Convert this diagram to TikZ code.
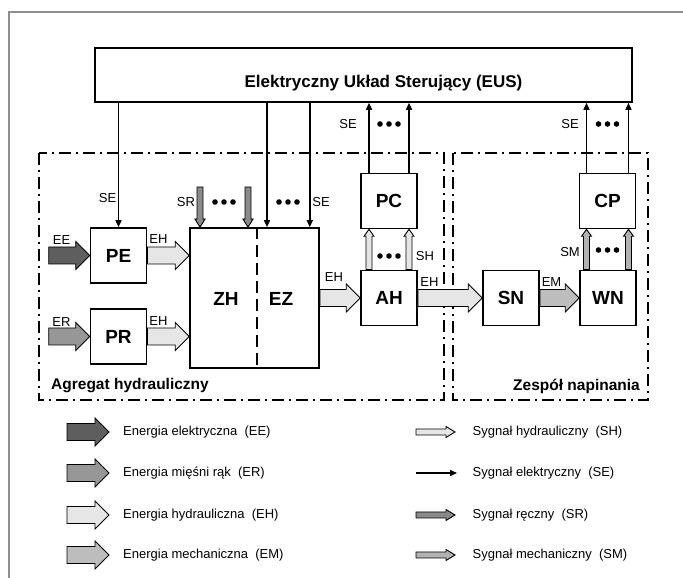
\documentclass[tikz,border=0pt]{standalone}
\usepackage{fontspec}
\setmainfont{Liberation Sans}
\usepackage{tikz}
\usetikzlibrary{calc,arrows.meta,positioning}
\definecolor{eecol}{HTML}{5E5E5E}
\definecolor{ercol}{HTML}{979797}
\definecolor{ehcol}{HTML}{E6E6E6}
\definecolor{emcol}{HTML}{BDBDBD}
\definecolor{srcol}{HTML}{8A8A8A}
\definecolor{smcol}{HTML}{B2B2B2}
\definecolor{framec}{HTML}{8E8E8E}
\tikzset{
  blk/.style={draw,line width=1.6pt,minimum width=56pt,minimum height=55pt,inner sep=0pt,font=\fontsize{19}{21}\bfseries\selectfont},
  lbl/.style={font=\fontsize{13}{15}\selectfont,inner sep=0pt},
  leg/.style={font=\fontsize{13}{15}\selectfont,anchor=west,inner sep=0pt},
  reg/.style={font=\fontsize{15.5}{18}\bfseries\selectfont,inner sep=0pt},
  zone/.style={line width=2.4pt,dash pattern=on 12pt off 5pt on 2pt off 5pt},
  divline/.style={line width=2.4pt,dash pattern=on 12pt off 6pt},
  se/.style={-{Triangle[length=7pt,width=6pt]},line width=1.5pt},
  fat/.style={line width=0.9pt,line join=miter}
}
% wide arrow: fill, from, to, half body, half head, head length
\newcommand{\flowarr}[6]{%
  \coordinate (fh) at ($(#3)!#6!(#2)$);
  \draw[fat,fill=#1] ($(#2)!#4!90:(#3)$) -- ($(fh)!#4!90:(#3)$) -- ($(fh)!#5!90:(#3)$) -- (#3)
    -- ($(fh)!#5!-90:(#3)$) -- ($(fh)!#4!-90:(#3)$) -- ($(#2)!#4!-90:(#3)$) -- cycle;}
\newcommand{\tridots}[1]{\foreach \k in {-9,0,9} \fill ($(#1)+(\k,0)$) circle (2.8);}

\begin{document}
\begin{tikzpicture}[x=1pt,y=1pt]
\useasboundingbox (0,0) rectangle (683,578);
\draw[framec,line width=1.2pt] (9,0) -- (9,566) -- (683,566);

% blocks
\node[blk,minimum width=537pt,minimum height=54pt] (EUS) at (363.5,503) {};
\node[font=\fontsize{17}{20}\bfseries\selectfont] (EUSt) at ($(EUS.center)+(20,-8)$) {Elektryczny Układ Sterujący (EUS)};
\node[blk] (PE) at (118.5,322.5) {PE};
\node[blk] (PR) at (118.5,241.5) {PR};
\node[blk,minimum width=129pt,minimum height=140pt] (ZE) at (254.5,280) {};
\node[font=\fontsize{19}{21}\bfseries\selectfont] (ZH) at (226,279) {ZH};
\node[font=\fontsize{19}{21}\bfseries\selectfont] (EZ) at (281,279) {EZ};
\coordinate (div) at (257,280);
\draw[divline] (ZE.north -| div) -- (ZE.south -| div);
\node[blk] (AH) at (389,280) {AH};
\node[blk] (PC) at (389,377) {PC};
\node[blk] (SN) at (511,280) {SN};
\node[blk] (WN) at (608,280) {WN};
\node[blk] (CP) at (607.5,377) {CP};

% zones
\draw[zone] (39,425) rectangle (444,178);
\draw[zone] (453,425) rectangle (648,178);
\node[reg,anchor=west] at (51,192) {Agregat hydrauliczny};
\node[reg,anchor=east] at (640,192) {Zespół napinania};

% energy flows
\coordinate[left=41pt of PE.west] (eein);
\coordinate[left=41pt of PR.west] (erin);
\coordinate (zhin1) at (PE.east -| ZE.west);
\coordinate (zhin2) at (PR.east -| ZE.west);
\coordinate (zhout) at (AH.west -| ZE.east);
\flowarr{eecol}{eein}{PE.west}{8.5pt}{14pt}{14pt}
\flowarr{ercol}{erin}{PR.west}{8.5pt}{14pt}{14pt}
\flowarr{ehcol}{PE.east}{zhin1}{8.5pt}{14pt}{14pt}
\flowarr{ehcol}{PR.east}{zhin2}{8.5pt}{14pt}{14pt}
\flowarr{ehcol}{zhout}{AH.west}{8.5pt}{14pt}{14pt}
\flowarr{ehcol}{AH.east}{SN.west}{8.5pt}{14pt}{14pt}
\flowarr{emcol}{SN.east}{WN.west}{8.5pt}{14pt}{14pt}
\node[lbl] at (61.5,338) {EE};
\node[lbl] at (61.5,256) {ER};
\node[lbl] at (158.5,339) {EH};
\node[lbl] at (158.5,257) {EH};
\node[lbl] at (334,301) {EH};
\node[lbl] at (429.5,296) {EH};
\node[lbl] at (551.5,296) {EM};

% electric signals
\draw[se] (EUS.south -| PE.north) -- (PE.north);
\node[lbl] at (107.5,380) {SE};
\coordinate (se1) at ($(ZE.north)+(12.5,0)$);
\coordinate (se2) at ($(ZE.north east)+(-10,0)$);
\draw[se] (EUS.south -| se1) -- (se1);
\draw[se] (EUS.south -| se2) -- (se2);
\tridots{288,376}
\node[lbl] at (321,376) {SE};
\coordinate (pc1) at ($(PC.north)+(-20,0)$);
\coordinate (pc2) at ($(PC.north)+(20,0)$);
\draw[se] (pc1) -- (pc1 |- EUS.south);
\draw[se] (pc2) -- (pc2 |- EUS.south);
\tridots{389,454}
\node[lbl] at (348,454) {SE};
\coordinate (cp1) at ($(CP.north)+(-21,0)$);
\coordinate (cp2) at ($(CP.north)+(21,0)$);
\draw[se] (cp1) -- (cp1 |- EUS.south);
\draw[se] (cp2) -- (cp2 |- EUS.south);
\tridots{607.5,454}
\node[lbl] at (570,454) {SE};

% manual signals
\coordinate (sr1) at (200,391);
\coordinate (sr2) at (248,391);
\coordinate (sr1e) at (sr1 |- ZE.north);
\coordinate (sr2e) at (sr2 |- ZE.north);
\flowarr{srcol}{sr1}{sr1e}{3pt}{5pt}{8pt}
\flowarr{srcol}{sr2}{sr2e}{3pt}{5pt}{8pt}
\tridots{224,376}
\node[lbl] at (186,376) {SR};

% hydraulic and mechanical signals
\coordinate (ah1) at ($(AH.north)+(-20,0)$);
\coordinate (ah2) at ($(AH.north)+(20,0)$);
\coordinate (ah1e) at (ah1 |- PC.south);
\coordinate (ah2e) at (ah2 |- PC.south);
\flowarr{ehcol}{ah1}{ah1e}{3pt}{5pt}{7pt}
\flowarr{ehcol}{ah2}{ah2e}{3pt}{5pt}{7pt}
\tridots{389,322}
\node[lbl] at (425,322) {SH};
\coordinate (wn1) at ($(WN.north)+(-21.5,0)$);
\coordinate (wn2) at ($(WN.north)+(20.5,0)$);
\coordinate (wn1e) at (wn1 |- CP.south);
\coordinate (wn2e) at (wn2 |- CP.south);
\flowarr{smcol}{wn1}{wn1e}{3pt}{5pt}{7pt}
\flowarr{smcol}{wn2}{wn2e}{3pt}{5pt}{7pt}
\tridots{607.5,328}
\node[lbl] at (570,326) {SM};

% legend
\foreach \yy/\cc/\tx [count=\i] in {146/eecol/{Energia elektryczna~ (EE)},105/ercol/{Energia mięśni rąk~ (ER)},63/ehcol/{Energia hydrauliczna~ (EH)},23/emcol/{Energia mechaniczna~ (EM)}}{
  \coordinate (la\i) at (67,\yy);
  \coordinate (lb\i) at (109,\yy);
  \flowarr{\cc}{la\i}{lb\i}{8.5pt}{14pt}{14pt}
  \node[leg] (lt\i) at (123,\yy) {\tx};
}
\coordinate (ra1) at (416,146); \coordinate (rb1) at (455,146);
\coordinate (ra2) at (416,105); \coordinate (rb2) at (457,105);
\coordinate (ra3) at (416,63);  \coordinate (rb3) at (455,63);
\coordinate (ra4) at (416,23);  \coordinate (rb4) at (455,23);
\flowarr{ehcol}{ra1}{rb1}{3pt}{5.5pt}{9pt}
\draw[se] (ra2) -- (rb2);
\flowarr{srcol}{ra3}{rb3}{3pt}{5.5pt}{9pt}
\flowarr{smcol}{ra4}{rb4}{3pt}{5.5pt}{9pt}
\node[leg] at (472.5,146) {Sygnał hydrauliczny~ (SH)};
\node[leg] at (472.5,105) {Sygnał elektryczny~ (SE)};
\node[leg] at (472.5,63) {Sygnał ręczny~ (SR)};
\node[leg] at (472.5,23) {Sygnał mechaniczny~ (SM)};
\end{tikzpicture}
\end{document}
